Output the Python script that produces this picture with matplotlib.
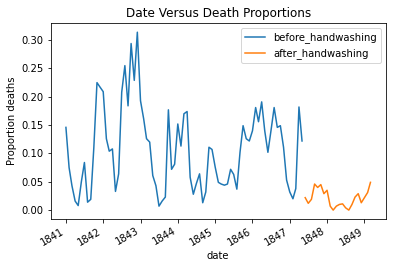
import matplotlib
matplotlib.use("Agg")
import matplotlib.pyplot as plt
import pandas as pd

# monthly proportion of deaths
before_dates = pd.date_range("1841-01-01", "1847-05-01", freq="MS")
before_values = [
    0.146, 0.075, 0.043, 0.016, 0.008, 0.050, 0.084, 0.014, 0.019, 0.110, 0.225, 0.217,
    0.209, 0.126, 0.104, 0.108, 0.033, 0.064, 0.208, 0.255, 0.184, 0.294, 0.229, 0.314,
    0.193, 0.161, 0.126, 0.120, 0.061, 0.043, 0.007, 0.016, 0.023, 0.177, 0.072, 0.081,
    0.152, 0.113, 0.170, 0.174, 0.058, 0.028, 0.047, 0.064, 0.013, 0.032, 0.111, 0.107,
    0.076, 0.049, 0.046, 0.044, 0.046, 0.072, 0.063, 0.037, 0.102, 0.149, 0.126, 0.122,
    0.140, 0.181, 0.156, 0.191, 0.140, 0.102, 0.140, 0.181, 0.146, 0.149, 0.111, 0.053,
    0.032, 0.020, 0.038, 0.182, 0.122,
]

after_dates = pd.date_range("1847-06-01", "1849-03-01", freq="MS")
after_values = [
    0.022, 0.012, 0.019, 0.046, 0.040, 0.045, 0.029, 0.035, 0.007, 0.000, 0.007,
    0.010, 0.011, 0.004, 0.000, 0.010, 0.023, 0.029, 0.013, 0.022, 0.031, 0.049,
]

fig = plt.figure(figsize=(395 / 72, 268 / 72), dpi=72)
ax = fig.add_axes([50.7 / 395, 1 - 219 / 268, 335 / 395, 195.7 / 268])

ax.plot(before_dates, before_values, color="#1f77b4", label="before_handwashing")
ax.plot(after_dates, after_values, color="#ff7f0e", label="after_handwashing")

ax.set_title("Date Versus Death Proportions")
ax.set_ylabel("Proportion deaths")
ax.set_xlabel("date")
ax.legend(loc="upper right")

for lbl in ax.get_xticklabels():
    lbl.set_rotation(30)
    lbl.set_ha("right")

fig.savefig("out.png", dpi=72)
